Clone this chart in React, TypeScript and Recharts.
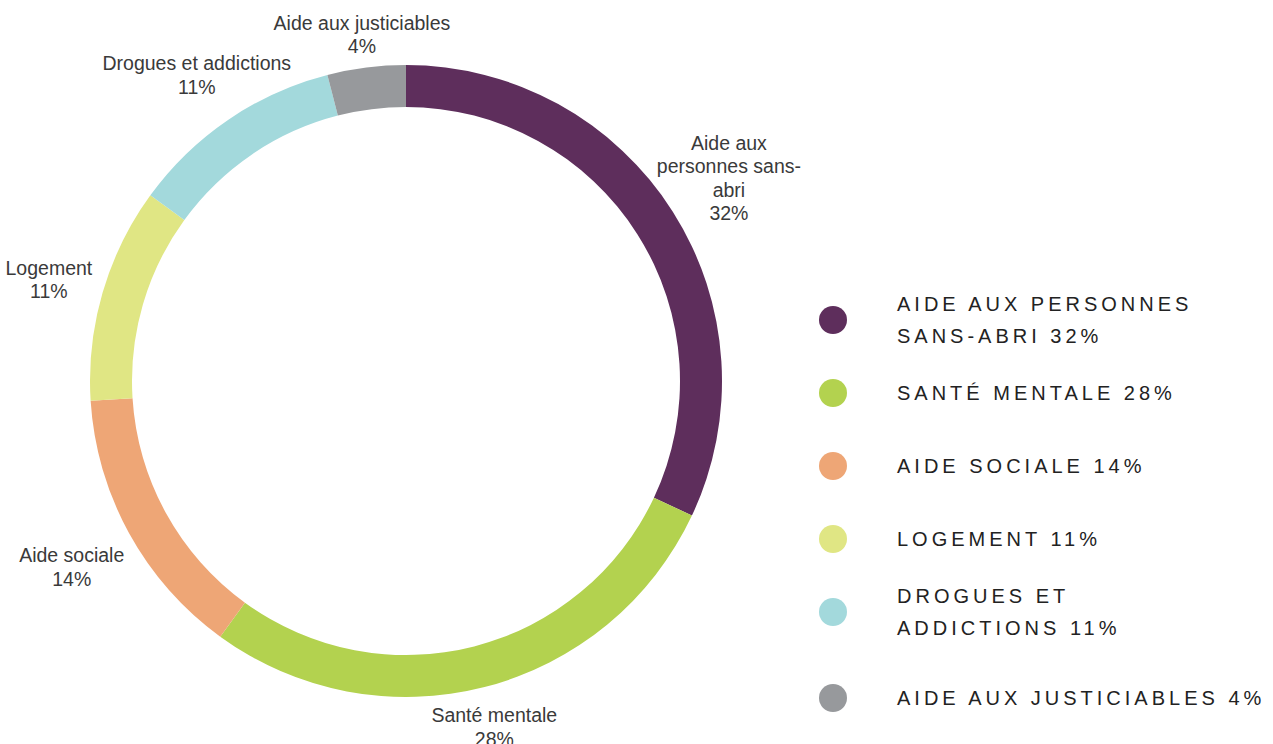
import { PieChart, Pie, Cell, Legend } from 'recharts';

const CATEGORIES = [
  'Aide aux personnes sans-abri',
  'Santé mentale',
  'Aide sociale',
  'Logement',
  'Drogues et addictions',
  'Aide aux justiciables',
];
const VALUES = [32, 28, 14, 11, 11, 4];
const COLORS = ['#5e2e5c', '#b3d24f', '#eea676', '#e0e684', '#a3d9dc', '#97999c'];

// text of the labels around the ring, one entry per line
const SLICE_LABELS = [
  ['Aide aux', 'personnes sans-', 'abri'],
  ['Santé mentale'],
  ['Aide sociale'],
  ['Logement'],
  ['Drogues et addictions'],
  ['Aide aux justiciables'],
];

const LEGEND_LABELS = [
  ['AIDE AUX PERSONNES', 'SANS-ABRI 32%'],
  ['SANTÉ MENTALE 28%'],
  ['AIDE SOCIALE 14%'],
  ['LOGEMENT 11%'],
  ['DROGUES ET', 'ADDICTIONS 11%'],
  ['AIDE AUX JUSTICIABLES 4%'],
];

const chartData = CATEGORIES.map((name, i) => ({ name, value: VALUES[i] }));

const RADIAN = Math.PI / 180;
const FONT = '"Liberation Sans", Arial, sans-serif';

const renderLabel = (props: any) => {
  const { cx, cy, midAngle, index, value } = props;
  const cos = Math.cos(-midAngle * RADIAN);
  const sin = Math.sin(-midAngle * RADIAN);
  // push diagonal labels a bit further out so they clear the ring
  const r = 350 + 85 * cos * cos * Math.abs(sin);
  const x = cx + r * cos;
  const y = cy + r * sin + 2;
  const lines = [...SLICE_LABELS[index], `${value}%`];
  const lh = 23.5;
  const y0 = y - ((lines.length - 1) * lh) / 2;
  return (
    <text
      x={x}
      y={y0}
      textAnchor="middle"
      dominantBaseline="central"
      fill="#3a3a3a"
      fontSize={19.5}
      fontFamily={FONT}
    >
      {lines.map((line, i) => (
        <tspan key={i} x={x} dy={i === 0 ? 0 : lh}>
          {line}
        </tspan>
      ))}
    </text>
  );
};

const renderLegend = () => (
  <div style={{ fontFamily: FONT }}>
    {LEGEND_LABELS.map((lines, i) => (
      <div
        key={i}
        style={{
          display: 'flex',
          alignItems: 'center',
          height: 73,
          marginTop: i === LEGEND_LABELS.length - 1 ? 13 : 0,
        }}
      >
        <div
          style={{
            width: 28,
            height: 28,
            borderRadius: '50%',
            background: COLORS[i],
            flexShrink: 0,
          }}
        />
        <div
          style={{
            marginLeft: 50,
            fontSize: 20,
            letterSpacing: 4,
            lineHeight: '32px',
            color: '#222',
            whiteSpace: 'nowrap',
          }}
        >
          {lines.map((l, j) => (
            <div key={j}>{l}</div>
          ))}
        </div>
      </div>
    ))}
  </div>
);

export default function App() {
  return (
    <div style={{ position: 'absolute', left: 0, top: 0, background: '#fff' }}>
      <PieChart width={1273} height={744} margin={{ top: 0, right: 0, bottom: 0, left: 0 }}>
        <Pie
          data={chartData}
          dataKey="value"
          nameKey="name"
          cx={406}
          cy={381}
          innerRadius={274}
          outerRadius={316}
          startAngle={90}
          endAngle={-270}
          stroke="none"
          labelLine={false}
          label={renderLabel}
          isAnimationActive={false}
        >
          {chartData.map((entry, index) => (
            <Cell key={`cell-${index}`} fill={COLORS[index]} />
          ))}
        </Pie>
        <Legend
          layout="vertical"
          content={renderLegend}
          wrapperStyle={{ left: 819, top: 283, width: 454, bottom: 'auto' }}
        />
      </PieChart>
    </div>
  );
}
